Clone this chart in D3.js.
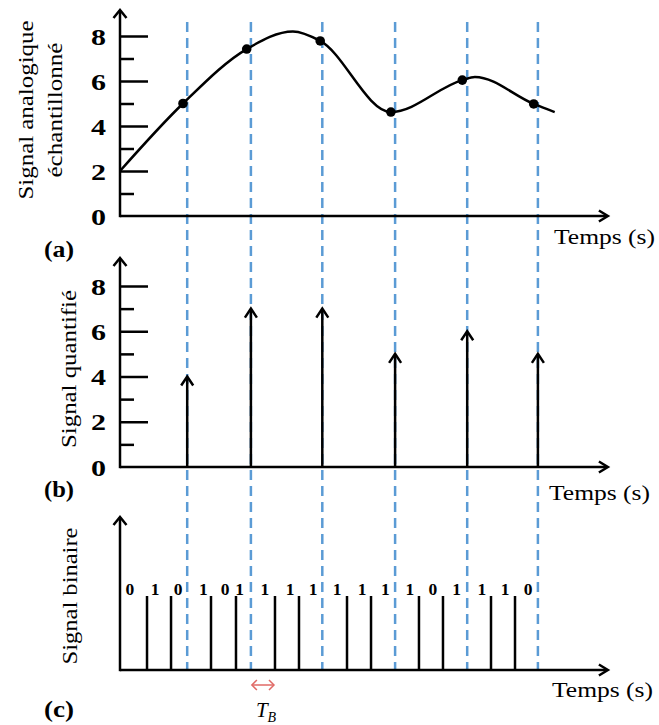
<!DOCTYPE html>
<html>
<head>
    <meta charset="UTF-8">
    <script src="https://cdn.jsdelivr.net/npm/d3@7/dist/d3.min.js"></script>
    <title>Echantillonnage</title>
    <style>
        body { margin: 0; background: #fff; }
    </style>
</head>
<body>
<svg id="chart"></svg>
<script>
    // sample instants (the dashed blue lines)
    var sampleT = [0.96, 1.87, 2.89, 3.93, 4.96, 5.97];
    // analog signal
    var analogT = [0, 0.90, 1.81, 2.47, 2.86, 3.87, 4.89, 5.07, 5.91, 6.21];
    var analogV = [2.0, 5.0, 7.42, 8.2, 7.78, 4.62, 6.04, 6.18, 4.98, 4.62];
    // sampled points
    var dotT = [0.90, 1.81, 2.86, 3.87, 4.89, 5.91];
    var dotV = [5.0, 7.42, 7.78, 4.62, 6.04, 4.98];
    // quantized values
    var quantV = [4, 7, 7, 5, 6, 5];
    // binary signal
    var bits = [0, 1, 0, 1, 0, 1, 1, 1, 1, 1, 1, 1, 1, 0, 1, 1, 1, 0];
    var bitLabelT = [0.14, 0.50, 0.83, 1.19, 1.50, 1.71, 2.07, 2.43, 2.76, 3.10, 3.46, 3.79, 4.14, 4.47, 4.81, 5.17, 5.50, 5.83];
    var bitEdgeT = [0.386, 0.729, 1.30, 1.657, 2.214, 2.557, 3.243, 3.586, 4.271, 4.614, 5.30, 5.643];
    var labelTicks = [0, 2, 4, 6, 8];
    var longTicks = [2, 4, 6, 8];
    var shortTicks = [1, 3, 5, 7];

    var SERIF = "'Liberation Serif', 'Times New Roman', Tinos, serif";

    var width = 659, height = 725;
    var svg = d3.select("#chart").attr("width", width).attr("height", height);
    svg.append("rect").attr("width", width).attr("height", height).attr("fill", "#fff");

    var x = d3.scaleLinear().domain([0, 7]).range([120, 610]);
    var xEnd = 6.97;
    var ya = d3.scaleLinear().domain([0, 8]).range([216, 36]);
    var yb = d3.scaleLinear().domain([0, 8]).range([467, 286]);
    var yc = d3.scaleLinear().domain([0, 1]).range([670, 596]);

    function widen(sel, k) {
        sel.each(function () {
            var len = this.getComputedTextLength();
            d3.select(this).attr("textLength", len * k).attr("lengthAdjust", "spacingAndGlyphs");
        });
    }

    // dashed sampling lines
    svg.append("g")
            .selectAll("line")
            .data(sampleT)
            .enter().append("line")
            .attr("x1", function (d) { return x(d); })
            .attr("x2", function (d) { return x(d); })
            .attr("y1", 22)
            .attr("y2", yc(0))
            .attr("stroke", "#5b9bd5")
            .attr("stroke-width", 2.5)
            .attr("stroke-dasharray", "10,6");

    function chevron(g, px, py, dir, len, half) {
        var p;
        if (dir === "up") p = "M" + (px - half) + "," + (py + len) + "L" + px + "," + py + "L" + (px + half) + "," + (py + len);
        else p = "M" + (px - len) + "," + (py - half) + "L" + px + "," + py + "L" + (px - len) + "," + (py + half);
        g.append("path").attr("d", p).attr("fill", "none").attr("stroke", "#000")
                .attr("stroke-width", 2.5).attr("stroke-linejoin", "miter");
    }

    function frame(y, top, ticks) {
        var g = svg.append("g");
        g.append("line").attr("x1", x(0)).attr("x2", x(xEnd) - 1)
                .attr("y1", y(0)).attr("y2", y(0)).attr("stroke", "#000").attr("stroke-width", 2.5);
        g.append("line").attr("x1", x(0)).attr("x2", x(0))
                .attr("y1", y(0) + 1.2).attr("y2", top + 1).attr("stroke", "#000").attr("stroke-width", 2.5);
        chevron(g, x(xEnd), y(0), "right", 9, 5.5);
        chevron(g, x(0), top, "up", 8, 6.5);
        if (!ticks) return g;

        var big = g.append("g").attr("transform", "translate(" + x(0) + ",0)")
                .call(d3.axisRight(y).tickValues(longTicks).tickSize(28).tickFormat(""));
        var small = g.append("g").attr("transform", "translate(" + x(0) + ",0)")
                .call(d3.axisRight(y).tickValues(shortTicks).tickSize(14).tickFormat(""));
        var lab = g.append("g").attr("transform", "translate(" + x(0) + ",0)")
                .call(d3.axisLeft(y).tickValues(labelTicks).tickSize(0).tickPadding(14).tickFormat(d3.format("d")));
        [big, small, lab].forEach(function (a) { a.select(".domain").remove(); });
        big.selectAll("line").attr("stroke", "#000").attr("stroke-width", 2.5);
        small.selectAll("line").attr("stroke", "#000").attr("stroke-width", 2.5);
        lab.selectAll("text")
                .style("font-family", SERIF)
                .style("font-weight", "bold")
                .style("font-size", "24px")
                .attr("fill", "#000")
                .attr("dy", "0.34em");
        widen(lab.selectAll("text"), 1.25);
        return g;
    }

    // ---- (a) analog signal
    frame(ya, 10, true);
    var line = d3.line()
            .x(function (d, i) { return x(analogT[i]); })
            .y(function (d) { return ya(d); })
            .curve(d3.curveMonotoneX);
    svg.append("path").datum(analogV)
            .attr("d", line).attr("fill", "none").attr("stroke", "#000").attr("stroke-width", 2.5);
    svg.append("g").selectAll("circle")
            .data(dotV)
            .enter().append("circle")
            .attr("cx", function (d, i) { return x(dotT[i]); })
            .attr("cy", function (d) { return ya(d); })
            .attr("r", 4.8).attr("fill", "#000");

    // ---- (b) quantized
    frame(yb, 258, true);
    var stems = svg.append("g");
    quantV.forEach(function (v, i) {
        stems.append("line").attr("x1", x(sampleT[i])).attr("x2", x(sampleT[i]))
                .attr("y1", yb(0)).attr("y2", yb(v) + 1).attr("stroke", "#000").attr("stroke-width", 2.5);
        chevron(stems, x(sampleT[i]), yb(v), "up", 9, 6);
    });

    // ---- (c) binary
    frame(yc, 517, false);
    svg.append("g").selectAll("line")
            .data(bitEdgeT)
            .enter().append("line")
            .attr("x1", function (d) { return x(d); })
            .attr("x2", function (d) { return x(d); })
            .attr("y1", yc(0)).attr("y2", yc(1))
            .attr("stroke", "#000").attr("stroke-width", 2.5);
    svg.append("g").selectAll("text")
            .data(bits)
            .enter().append("text")
            .attr("x", function (d, i) { return x(bitLabelT[i]); })
            .attr("y", yc(1) - 1)
            .attr("text-anchor", "middle")
            .style("font-family", SERIF)
            .style("font-weight", "bold")
            .style("font-size", "17.5px")
            .text(function (d) { return d; });

    // T_B marker
    var tb = svg.append("g");
    var tb0 = x(sampleT[1]), tb1 = x(bitEdgeT[4]);
    tb.append("line").attr("x1", tb0 + 1).attr("x2", tb1 - 1).attr("y1", 685).attr("y2", 685)
            .attr("stroke", "#e06a66").attr("stroke-width", 1.5);
    tb.append("path")
            .attr("d", "M" + (tb0 + 6) + ",680L" + (tb0 + 1) + ",685L" + (tb0 + 6) + ",690" +
                    "M" + (tb1 - 6) + ",680L" + (tb1 - 1) + ",685L" + (tb1 - 6) + ",690")
            .attr("fill", "none").attr("stroke", "#e06a66").attr("stroke-width", 1.5);
    var tbt = tb.append("text").attr("x", tb0 + 5).attr("y", 717)
            .style("font-family", SERIF)
            .style("font-style", "italic").style("font-size", "21px");
    tbt.append("tspan").text("T");
    tbt.append("tspan").attr("dy", 5).style("font-size", "14px").text("B");

    // axis titles
    function xTitle(px, py) {
        svg.append("text").attr("x", px).attr("y", py)
                .style("font-family", SERIF)
                .style("font-size", "22px")
                .attr("textLength", 101).attr("lengthAdjust", "spacingAndGlyphs")
                .text("Temps (s)");
    }
    xTitle(554, 244);
    xTitle(549, 500);
    xTitle(552, 697);

    function yTitle(px, cy, txt, len) {
        svg.append("text")
                .attr("transform", "translate(" + px + "," + cy + ") rotate(-90)")
                .attr("text-anchor", "middle")
                .style("font-family", SERIF)
                .style("font-size", "22px")
                .attr("textLength", len).attr("lengthAdjust", "spacingAndGlyphs")
                .text(txt);
    }
    yTitle(33, 110, "Signal analogique", 179);
    yTitle(62, 110, "échantillonné", 135);
    yTitle(76, 369, "Signal quantifié", 158);
    yTitle(77, 596, "Signal binaire", 137);

    [["(a)", 257], ["(b)", 497], ["(c)", 717]].forEach(function (p) {
        svg.append("text").attr("x", 44).attr("y", p[1])
                .style("font-family", SERIF)
                .style("font-weight", "bold")
                .style("font-size", "24px")
                .attr("textLength", 30).attr("lengthAdjust", "spacingAndGlyphs")
                .text(p[0]);
    });
</script>
</body>
</html>
